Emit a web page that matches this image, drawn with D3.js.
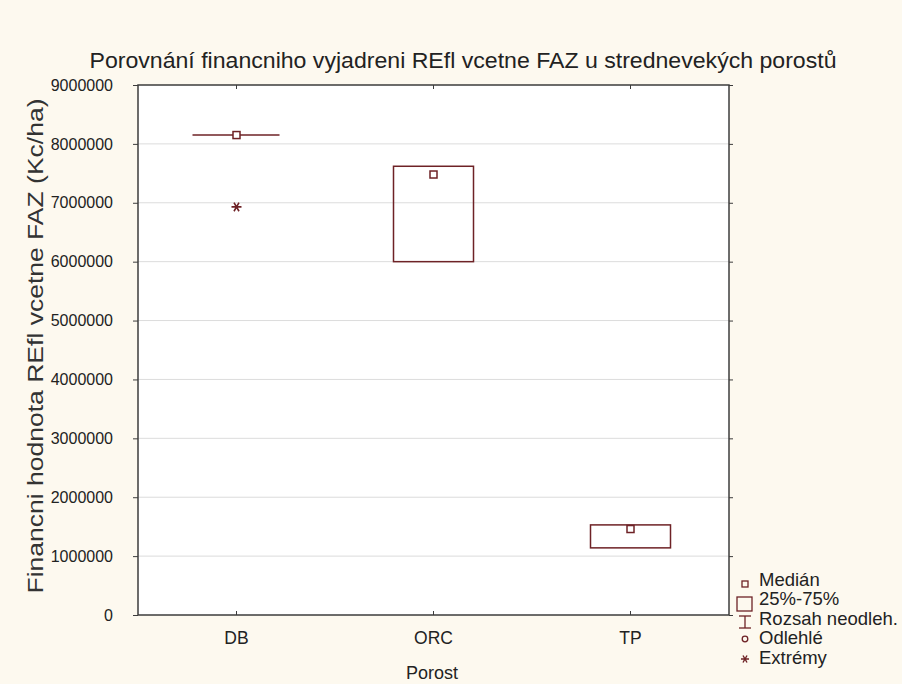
<!DOCTYPE html>
<html>
<head>
<meta charset="utf-8">
<script src="https://cdn.jsdelivr.net/npm/d3@7"></script>
<style>
  html, body { margin: 0; padding: 0; background: #fdf9ef; }
  svg { display: block; font-family: "Liberation Sans", Arial, sans-serif; }
</style>
</head>
<body>
<svg id="chart" width="902" height="684"></svg>
<script>
// Box summaries per stand type (Kc/ha)
const categories = ["DB", "ORC", "TP"];
const medians = [8150000, 7480000, 1460000];
const q1 = [8150000, 6000000, 1140000];
const q3 = [8150000, 7620000, 1530000];
const extremes = [[6930000], [], []];
const yTicks = [0, 1000000, 2000000, 3000000, 4000000, 5000000, 6000000, 7000000, 8000000, 9000000];
const legendLabels = ["Medián", "25%-75%", "Rozsah neodleh.", "Odlehlé", "Extrémy"];

const markColor = "#6e2226";
const frameColor = "#3c3c3c";
const textColor = "#222";

const svg = d3.select("#chart");
const m = { left: 138, top: 85, right: 729, bottom: 615 };

const x = d3.scaleBand().domain(categories).range([m.left, m.right]);
const y = d3.scaleLinear().domain([0, 9000000]).range([m.bottom, m.top]);

// plot area
svg.append("rect")
  .attr("x", m.left).attr("y", m.top)
  .attr("width", m.right - m.left).attr("height", m.bottom - m.top)
  .attr("fill", "#ffffff");

// grid
svg.append("g").selectAll("line")
  .data(yTicks.filter(d => d > 0 && d < 9000000))
  .join("line")
  .attr("x1", m.left).attr("x2", m.right)
  .attr("y1", d => y(d)).attr("y2", d => y(d))
  .attr("stroke", "#dcdcdc").attr("stroke-width", 1);

// left axis
const yAxis = svg.append("g")
  .attr("transform", `translate(${m.left},0)`)
  .call(d3.axisLeft(y).tickValues(yTicks).tickFormat(d3.format("d")).tickSize(5).tickPadding(20));
yAxis.select(".domain").remove();
yAxis.selectAll(".tick line").attr("stroke", frameColor);
yAxis.selectAll(".tick text").attr("font-size", 16).attr("fill", textColor)
  .attr("font-family", "Liberation Sans, Arial, sans-serif");

// right ticks
const yAxisR = svg.append("g")
  .attr("transform", `translate(${m.right},0)`)
  .call(d3.axisRight(y).tickValues(yTicks).tickFormat("").tickSize(4));
yAxisR.select(".domain").remove();
yAxisR.selectAll(".tick line").attr("stroke", frameColor);

// bottom axis
const xAxis = svg.append("g")
  .attr("transform", `translate(0,${m.bottom})`)
  .call(d3.axisBottom(x).tickSize(-4).tickPadding(17));
xAxis.select(".domain").remove();
xAxis.selectAll(".tick line").attr("stroke", frameColor);
xAxis.selectAll(".tick text").attr("font-size", 17.5).attr("fill", textColor)
  .attr("font-family", "Liberation Sans, Arial, sans-serif");

// top ticks
const xAxisT = svg.append("g")
  .attr("transform", `translate(0,${m.top})`)
  .call(d3.axisTop(x).tickFormat("").tickSize(-4));
xAxisT.select(".domain").remove();
xAxisT.selectAll(".tick line").attr("stroke", frameColor);

// frame
svg.append("rect")
  .attr("x", m.left).attr("y", m.top)
  .attr("width", m.right - m.left).attr("height", m.bottom - m.top)
  .attr("fill", "none").attr("stroke", frameColor).attr("stroke-width", 1.5);

// boxes
const boxW = 80;
const boxes = svg.append("g");
const asterisk = d3.symbol(d3.symbolAsterisk, 70);
categories.forEach((c, i) => {
  const cx = x(c) + x.bandwidth() / 2;
  const top = y(q3[i]), bot = y(q1[i]);
  if (bot - top < 1) {
    boxes.append("line")
      .attr("x1", cx - boxW / 2 - 4).attr("x2", cx + boxW / 2 + 3)
      .attr("y1", top).attr("y2", top)
      .attr("stroke", markColor).attr("stroke-width", 1.5);
  } else {
    boxes.append("rect")
      .attr("x", cx - boxW / 2).attr("y", top)
      .attr("width", boxW).attr("height", bot - top)
      .attr("fill", "none").attr("stroke", markColor).attr("stroke-width", 1.5);
  }
  boxes.append("rect")
    .attr("x", cx - 3.5).attr("y", y(medians[i]) - 3.5)
    .attr("width", 7).attr("height", 7)
    .attr("fill", "#ffffff").attr("stroke", markColor).attr("stroke-width", 1.5);
  extremes[i].forEach(v => {
    boxes.append("path")
      .attr("transform", `translate(${cx},${y(v)}) rotate(90)`)
      .attr("d", asterisk())
      .attr("fill", "none").attr("stroke", markColor).attr("stroke-width", 1.6);
  });
});

// title
svg.append("text")
  .attr("x", 463).attr("y", 68)
  .attr("text-anchor", "middle")
  .attr("font-size", 22).attr("fill", textColor)
  .attr("textLength", 747).attr("lengthAdjust", "spacingAndGlyphs")
  .text("Porovnání financniho vyjadreni REfl vcetne FAZ u strednevekých porostů");

// axis titles
svg.append("text")
  .attr("x", 432).attr("y", 679)
  .attr("text-anchor", "middle")
  .attr("font-size", 18).attr("fill", textColor)
  .text("Porost");

svg.append("text")
  .attr("transform", "translate(43,346) rotate(-90)")
  .attr("text-anchor", "middle")
  .attr("font-size", 21.5).attr("fill", "#333")
  .attr("textLength", 495).attr("lengthAdjust", "spacingAndGlyphs")
  .text("Financni hodnota REfl vcetne FAZ (Kc/ha)");

// legend
const lg = svg.append("g");
const lx = 745, tx = 759;
const baselines = [586, 605, 625, 644, 664];
legendLabels.forEach((t, i) => {
  lg.append("text")
    .attr("x", tx).attr("y", baselines[i])
    .attr("font-size", 18.5).attr("fill", textColor)
    .text(t);
});
// median symbol
lg.append("rect").attr("x", lx - 3).attr("y", 581).attr("width", 6).attr("height", 6)
  .attr("fill", "none").attr("stroke", markColor).attr("stroke-width", 1.3);
// box symbol
lg.append("rect").attr("x", lx - 8).attr("y", 597).attr("width", 15).attr("height", 14)
  .attr("fill", "none").attr("stroke", markColor).attr("stroke-width", 1.3);
// whisker symbol
lg.append("line").attr("x1", lx).attr("x2", lx).attr("y1", 616).attr("y2", 628)
  .attr("stroke", markColor).attr("stroke-width", 1.3);
lg.append("line").attr("x1", lx - 6).attr("x2", lx + 6).attr("y1", 616).attr("y2", 616)
  .attr("stroke", markColor).attr("stroke-width", 1.3);
lg.append("line").attr("x1", lx - 6).attr("x2", lx + 6).attr("y1", 628).attr("y2", 628)
  .attr("stroke", markColor).attr("stroke-width", 1.3);
// outlier symbol
lg.append("circle").attr("cx", lx).attr("cy", 639).attr("r", 2.8)
  .attr("fill", "none").attr("stroke", markColor).attr("stroke-width", 1.3);
// extreme symbol
lg.append("path")
  .attr("transform", `translate(${lx},659) rotate(90)`)
  .attr("d", d3.symbol(d3.symbolAsterisk, 45)())
  .attr("fill", "none").attr("stroke", markColor).attr("stroke-width", 1.4);
</script>
</body>
</html>
